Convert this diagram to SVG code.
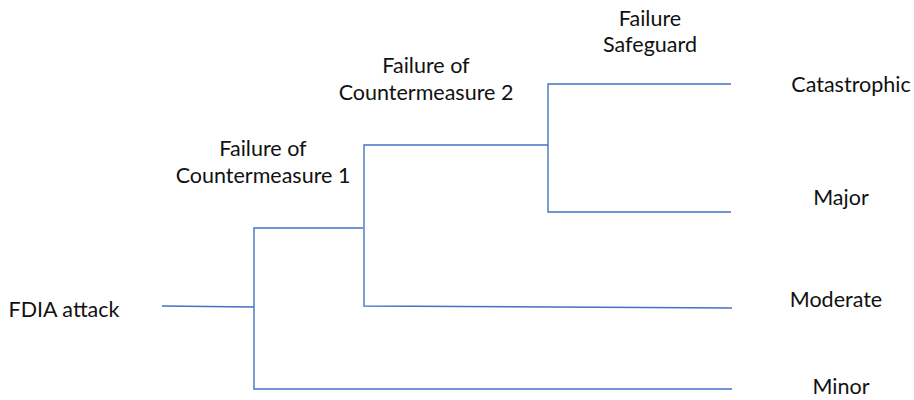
<svg xmlns="http://www.w3.org/2000/svg" width="914" height="400" viewBox="0 0 914 400">
<style>
.t{font-family:Lato,"Liberation Sans",sans-serif;font-size:21.5px;fill:#111;text-anchor:middle}
.c{fill:none;stroke:#4472C4;stroke-width:1.4}
</style>
<rect width="914" height="400" fill="#fff"/>
<g id="connectors">
<polyline class="c" points="162,306 254,307"/>
<polyline class="c" points="363,228 254,228 254,389 732,389"/>
<polyline class="c" points="548,145 364,145 364,306 732,308"/>
<polyline class="c" points="731,84 548,84 548,212 731,212"/>
</g>
<g id="n-fdia"><text class="t" x="64" y="317">FDIA attack</text></g>
<g id="n-cm1"><text class="t" x="263" y="156">Failure of</text><text class="t" x="263" y="183">Countermeasure 1</text></g>
<g id="n-cm2"><text class="t" x="426" y="73">Failure of</text><text class="t" x="426" y="100">Countermeasure 2</text></g>
<g id="n-sg"><text class="t" x="650" y="26">Failure</text><text class="t" x="650" y="52">Safeguard</text></g>
<g id="n-cat"><text class="t" x="851" y="92">Catastrophic</text></g>
<g id="n-major"><text class="t" x="841" y="205">Major</text></g>
<g id="n-mod"><text class="t" x="836" y="307">Moderate</text></g>
<g id="n-minor"><text class="t" x="841" y="394">Minor</text></g>
</svg>
